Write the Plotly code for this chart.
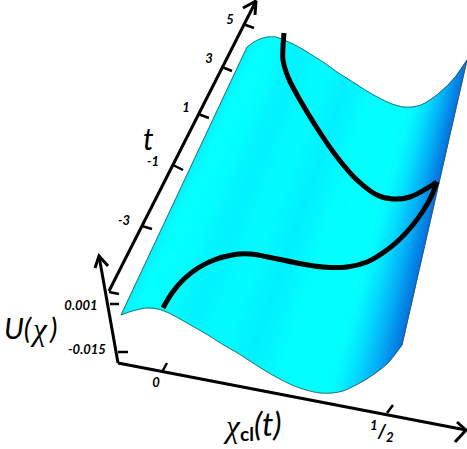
import numpy as np
import plotly.graph_objects as go

#surface edges (front = near t end, back = far t end)
front_x = [121, 129, 138, 146, 158, 169, 180, 194, 208, 222, 236, 250, 264, 278, 292, 306, 320, 332, 343, 354, 365, 377, 388, 402]
front_y = [315, 312, 309.5, 308, 309, 313, 319, 327, 335, 344, 352, 361, 370, 378, 385, 390, 393, 393, 391, 386, 380, 372, 363, 345]
back_x = [247, 254, 260, 267, 276, 284, 293, 304, 315, 326, 337, 348, 359, 370, 381, 392, 403, 412, 421, 430, 438, 447, 456, 467]
back_y = [47, 42, 39, 37, 37, 40, 44, 50, 57, 64, 72, 79, 86, 93, 99, 104, 107, 107, 105, 100, 94, 86, 76, 60]

#shading per column (green and blue channel, red is always 0)
shade_g = [236, 250, 255, 255, 255, 252, 246, 243, 248, 252, 246, 240, 246, 254, 255, 255, 255, 252, 236, 218, 194, 170, 142, 115]
shade_b = [255, 255, 255, 255, 255, 255, 255, 255, 255, 255, 255, 255, 255, 255, 255, 255, 255, 255, 255, 255, 252, 245, 235, 222]

#classical path on the surface
path_up_x = [163, 172, 184, 198, 214, 232, 250, 273, 297, 323, 347, 367, 387, 400, 412, 423, 431, 437]
path_up_y = [308, 293, 279, 268, 260, 255, 254, 258, 263, 267, 267, 262, 250, 239, 226, 211, 197, 182]
path_down_x = [437, 410, 393, 377, 357, 337, 317, 300, 288, 283, 283, 284]
path_down_y = [182, 197, 199, 195, 180, 157, 128, 100, 77, 60, 47, 33]

#axes
chi_axis_x = [118, 466]
chi_axis_y = [363, 430]
chi_head_x = [457, 466, 455]
chi_head_y = [422, 430, 442]
u_axis_x = [118, 99]
u_axis_y = [363, 256]
u_head_x = [95, 99, 108]
u_head_y = [268, 256, 266]
t_axis_x = [109, 256]
t_axis_y = [291, 1]
t_head_x = [243, 256, 255]
t_head_y = [8, 1, 15]

#tick marks (start and end of each one)
tick_x = [162, 167, None, 387, 393, None, 110, 119, None, 118, 128, None,
          109, 119, None, 142, 152, None, 173, 183, None, 198, 209, None, 222, 232, None, 243, 254]
tick_y = [372, 363, None, 413, 405, None, 304, 304, None, 352, 352, None,
          292, 294, None, 226, 229, None, 165, 170, None, 114, 118, None, 67, 71, None, 24, 28]

#labels
tick_labels = ["5", "3", "1", "-1", "-3", "0.001", "-0.015", "0"]
tick_label_x = [230, 209, 186, 153, 124, 81, 87, 156]
tick_label_y = [21, 60, 109, 163, 222, 307, 351, 384]

fig = go.Figure()

#surface, each column split in thin strips so the shading looks smooth
n_sub = 5
for i in range(len(front_x) - 1):
    for k in range(n_sub):
        a = k / n_sub
        b = (k + 1) / n_sub
        fx = np.array([front_x[i], front_x[i + 1]])
        fy = np.array([front_y[i], front_y[i + 1]])
        bx = np.array([back_x[i], back_x[i + 1]])
        by = np.array([back_y[i], back_y[i + 1]])
        xs = [fx[0] + a * (fx[1] - fx[0]), fx[0] + b * (fx[1] - fx[0]), bx[0] + b * (bx[1] - bx[0]), bx[0] + a * (bx[1] - bx[0])]
        ys = [fy[0] + a * (fy[1] - fy[0]), fy[0] + b * (fy[1] - fy[0]), by[0] + b * (by[1] - by[0]), by[0] + a * (by[1] - by[0])]
        g = shade_g[i] + (a + 0.1) * (shade_g[i + 1] - shade_g[i])
        bl = shade_b[i] + (a + 0.1) * (shade_b[i + 1] - shade_b[i])
        col = "rgb(0,%d,%d)" % (g, bl)
        fig.add_trace(go.Scatter(x=xs + xs[:1], y=ys + ys[:1], mode="lines", fill="toself",
                                 fillcolor=col, line=dict(color=col, width=0.8), hoverinfo="skip"))

#thin outline of the surface
edge = dict(color="#3c4c50", width=0.8)
fig.add_trace(go.Scatter(x=front_x, y=front_y, mode="lines", line=dict(shape="spline", **edge)))
fig.add_trace(go.Scatter(x=back_x, y=back_y, mode="lines", line=dict(shape="spline", **edge)))
fig.add_trace(go.Scatter(x=[front_x[0], back_x[0]], y=[front_y[0], back_y[0]], mode="lines", line=edge))
fig.add_trace(go.Scatter(x=[front_x[-1], back_x[-1]], y=[front_y[-1], back_y[-1]], mode="lines", line=edge))

#classical path
for px, py in [(path_up_x, path_up_y), (path_down_x, path_down_y)]:
    fig.add_trace(go.Scatter(x=px, y=py, mode="lines", line=dict(color="black", width=5, shape="spline")))

#axes and arrows
for ax, ay in [(chi_axis_x, chi_axis_y), (chi_head_x, chi_head_y), (u_axis_x, u_axis_y), (u_head_x, u_head_y),
               (t_axis_x, t_axis_y), (t_head_x, t_head_y)]:
    fig.add_trace(go.Scatter(x=ax, y=ay, mode="lines", line=dict(color="black", width=3)))
fig.add_trace(go.Scatter(x=tick_x, y=tick_y, mode="lines", line=dict(color="black", width=2.5)))

#tick labels
fig.add_trace(go.Scatter(x=tick_label_x, y=tick_label_y, mode="text", text=tick_labels, textposition="middle center",
                         textfont=dict(family="Lato, Open Sans", size=13, color="black", weight="bold", style="italic")))
half_font = dict(family="Lato, Open Sans", size=19, color="black", weight="bold", style="italic")
fig.add_annotation(x=382, y=431, text="<b><i><sup>1</sup>/<sub>2</sub></i></b>", showarrow=False, font=half_font)

#axis titles
title_font = dict(family="Lato, Open Sans", size=30, color="black")
chi_font = dict(family="Liberation Serif", size=31, color="black")
fig.add_annotation(x=148, y=138, text="<i>t</i>", showarrow=False, font=title_font)
fig.add_annotation(x=18, y=327, text="<i>U(</i>", showarrow=False, font=dict(family="Lato, Open Sans", size=29, color="black"))
fig.add_annotation(x=39, y=329, text="<i>χ</i>", showarrow=False, font=chi_font)
fig.add_annotation(x=53, y=327, text="<i>)</i>", showarrow=False, font=dict(family="Lato, Open Sans", size=29, color="black"))
fig.add_annotation(x=232, y=426, text="<i>χ</i>", showarrow=False, font=chi_font)
fig.add_annotation(x=247, y=433, text="<b>cl</b>", showarrow=False, font=dict(family="Lato, Open Sans", size=19, color="black", weight="bold"))
fig.add_annotation(x=268, y=423, text="<i>(t)</i>", showarrow=False, font=dict(family="Lato, Open Sans", size=32, color="black"))

fig.update_layout(
    width=467, height=449,
    margin=dict(l=0, r=0, t=0, b=0),
    paper_bgcolor="white", plot_bgcolor="white",
    showlegend=False,
    xaxis=dict(range=[0, 467], visible=False),
    yaxis=dict(range=[449, 0], visible=False),
)

#page has a default body margin, drop it so the figure sits at the window corner
fig.write_html("out.html", config={"displayModeBar": False}, post_script="document.body.style.margin='0';")
